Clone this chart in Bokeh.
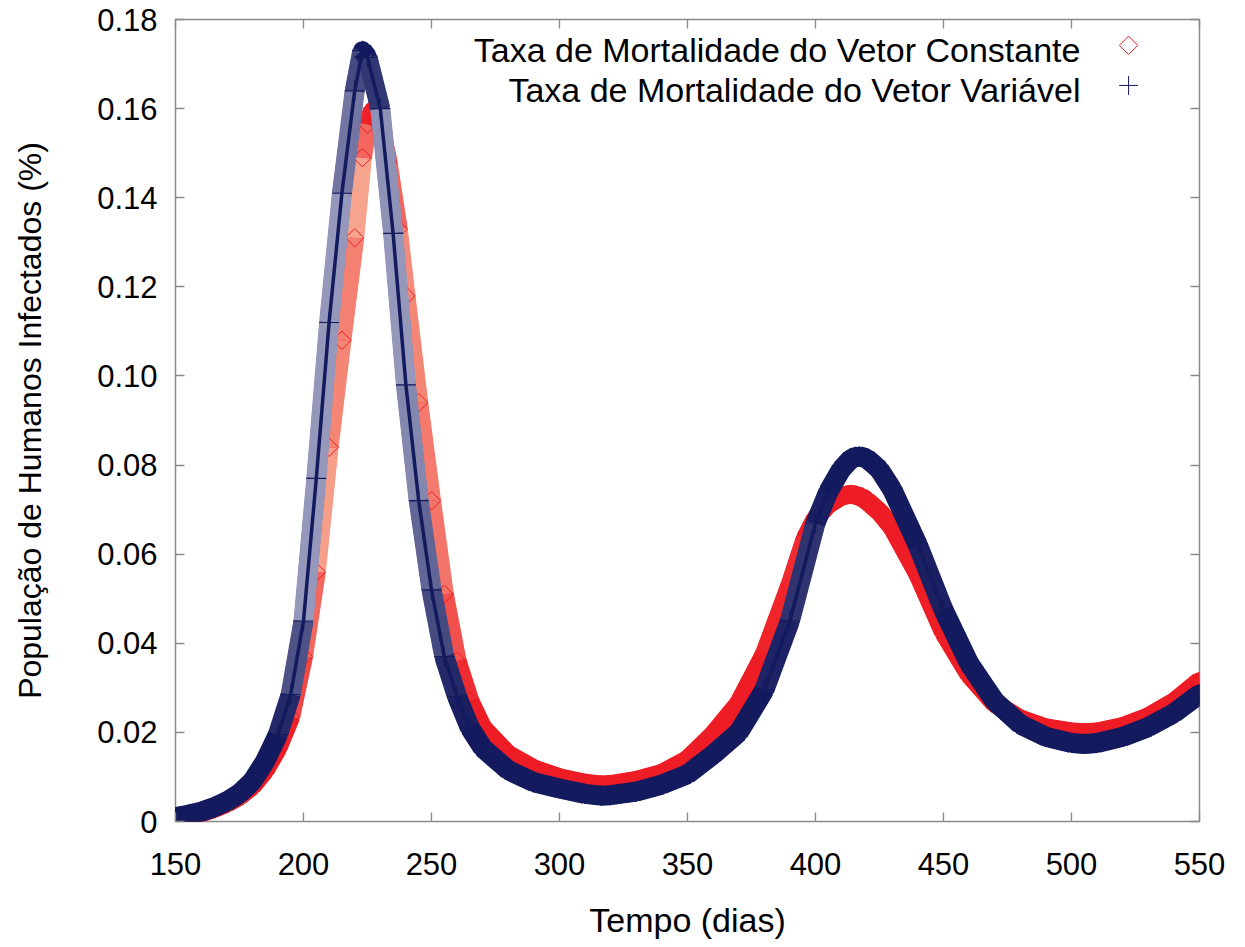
from bokeh.plotting import figure
from bokeh.models import Range1d, FixedTicker, LinearAxis, CustomJSTickFormatter, Label
from bokeh.embed import file_html
from bokeh.resources import INLINE
import math

# ---- data ----
days_const = [150, 155, 160, 165, 170, 175, 180, 185, 190, 195, 200, 205, 210, 215, 220,
              223, 225, 227, 230, 233, 237, 240, 245, 250, 255, 260, 265, 270, 280, 290,
              300, 310, 316, 320, 330, 340, 350, 360, 370, 380, 390, 396, 400, 405, 410,
              414, 418, 420, 425, 430, 440, 450, 460, 470, 480, 490, 500, 505, 510, 520,
              530, 540, 550]
vals_const = [0.0010, 0.0014, 0.0020, 0.0029, 0.0041, 0.0057, 0.0080, 0.0115, 0.0165, 0.0235,
              0.0370, 0.0560, 0.0840, 0.1080, 0.1310, 0.1490, 0.1565, 0.1596, 0.1565, 0.1480,
              0.1330, 0.1180, 0.0940, 0.0720, 0.0510, 0.0360, 0.0270, 0.0210, 0.0150, 0.0118,
              0.0098, 0.0086, 0.0082, 0.0083, 0.0092, 0.0108, 0.0139, 0.0195, 0.0265, 0.0375,
              0.0530, 0.0635, 0.0680, 0.0712, 0.0730, 0.0735, 0.0728, 0.0720, 0.0695, 0.0660,
              0.0555, 0.0425, 0.0330, 0.0265, 0.0230, 0.0210, 0.0201, 0.0199, 0.0201, 0.0213,
              0.0235, 0.0268, 0.0315]

days_var = [150, 155, 160, 165, 170, 175, 180, 185, 190, 195, 200, 205, 210, 215, 220,
            223, 225, 230, 235, 240, 245, 250, 255, 260, 265, 270, 280, 290, 300, 310,
            316, 320, 330, 340, 350, 360, 370, 380, 390, 400, 405, 410, 414, 417, 420,
            425, 430, 440, 450, 460, 470, 480, 490, 500, 505, 510, 520, 530, 540, 550]
vals_var = [0.0010, 0.0015, 0.0022, 0.0032, 0.0045, 0.0063, 0.0090, 0.0135, 0.0195, 0.0285,
            0.0450, 0.0770, 0.1120, 0.1410, 0.1640, 0.1730, 0.1715, 0.1600, 0.1320, 0.0980,
            0.0720, 0.0520, 0.0370, 0.0280, 0.0210, 0.0165, 0.0115, 0.0088, 0.0074, 0.0062,
            0.0058, 0.0059, 0.0067, 0.0083, 0.0106, 0.0150, 0.0200, 0.0295, 0.0450, 0.0670,
            0.0740, 0.0790, 0.0815, 0.0820, 0.0815, 0.0790, 0.0745, 0.0620, 0.0475, 0.0355,
            0.0270, 0.0218, 0.0190, 0.0176, 0.0174, 0.0176, 0.0190, 0.0212, 0.0243, 0.0286]

x_ticks = [150, 200, 250, 300, 350, 400, 450, 500, 550]
y_ticks = [0, 0.02, 0.04, 0.06, 0.08, 0.10, 0.12, 0.14, 0.16, 0.18]

label_const = "Taxa de Mortalidade do Vetor Constante"
label_var = "Taxa de Mortalidade do Vetor Variável"
x_title = "Tempo (dias)"
y_title = "População de Humanos Infectados (%)"

RED = "#ee1c24"
RED_LIGHT = "#f6a48e"
NAVY = "#141a5e"
NAVY_LIGHT = "#9598bb"
FRAME = "#8a8a8a"
FONT = "Liberation Sans"

X0, X1, Y0, Y1 = 150, 550, 0, 0.18
W_PX, H_PX = 1024, 802  # frame size in pixels (used only for band shading)


def hex2rgb(h):
    return tuple(int(h[i:i + 2], 16) for i in (1, 3, 5))


def mix(c_dark, c_light, t):
    a, b = hex2rgb(c_dark), hex2rgb(c_light)
    return "#%02x%02x%02x" % tuple(round(a[i] + (b[i] - a[i]) * t) for i in range(3))


def band_colors(xs, ys, dark, light):
    """Shade band segments: where the curve moves fast (markers spread out) it looks lighter."""
    cols = []
    for i in range(len(xs) - 1):
        dx = (xs[i + 1] - xs[i]) * W_PX / (X1 - X0)
        dy = (ys[i + 1] - ys[i]) * H_PX / (Y1 - Y0)
        speed = math.hypot(dx, dy) / (xs[i + 1] - xs[i])  # pixels per day
        t = min(1.0, max(0.0, (speed - 6.0) / 20.0))
        cols.append(mix(dark, light, t))
    return cols


p = figure(width=1245, height=947, output_backend="svg", toolbar_location=None,
           x_range=Range1d(X0, X1), y_range=Range1d(Y0, Y1),
           min_border_left=175, min_border_right=46, min_border_top=19, min_border_bottom=126,
           background_fill_color="white", border_fill_color="white")
p.grid.visible = False
p.outline_line_color = FRAME
p.outline_line_width = 1.5

# constant mortality: dark band, lighter shading where the curve is steep, diamonds
p.line(days_const, vals_const, line_color=RED, line_width=18, line_join="round", line_cap="round")
p.segment(days_const[:-1], vals_const[:-1], days_const[1:], vals_const[1:],
          line_color=band_colors(days_const, vals_const, RED, RED_LIGHT),
          line_width=19, line_cap="butt")
p.scatter(days_const, vals_const, marker="square", angle=math.pi / 4, size=13,
          fill_color=None, line_color=RED, line_width=1)

# variable mortality: dark band, lighter shading, crosses, dark centre line
p.line(days_var, vals_var, line_color=NAVY, line_width=19, line_join="round", line_cap="round")
p.segment(days_var[:-1], vals_var[:-1], days_var[1:], vals_var[1:],
          line_color=band_colors(days_var, vals_var, NAVY, NAVY_LIGHT),
          line_width=20, line_cap="butt")
p.scatter(days_var, vals_var, marker="cross", size=20, line_color=NAVY, line_width=1.2)
p.line(days_var, vals_var, line_color=NAVY, line_width=3.5, line_join="round")

# axes
fmt_y = CustomJSTickFormatter(code="return tick == 0 ? '0' : tick.toFixed(2);")
blank = CustomJSTickFormatter(code="return '';")


def style(ax, labels=True):
    ax.axis_line_color = None
    ax.major_tick_in = 9
    ax.major_tick_out = 0
    ax.major_tick_line_color = FRAME
    ax.major_tick_line_width = 1.3
    ax.minor_tick_line_color = None
    ax.major_label_text_font = FONT
    ax.major_label_text_color = "black"
    if labels:
        ax.major_label_text_font_size = "31px"
    else:
        ax.major_label_text_font_size = "0px"
        ax.major_label_standoff = 0


xa = p.xaxis[0]
xa.ticker = FixedTicker(ticks=x_ticks)
style(xa)
xa.major_label_standoff = 31
xa.axis_label = x_title
xa.axis_label_text_font = FONT
xa.axis_label_text_font_size = "34px"
xa.axis_label_text_font_style = "normal"
xa.axis_label_text_color = "black"
xa.axis_label_standoff = 23

ya = p.yaxis[0]
ya.ticker = FixedTicker(ticks=y_ticks)
ya.formatter = fmt_y
style(ya)
ya.major_label_standoff = 18
ya.axis_label = y_title
ya.axis_label_text_font = FONT
ya.axis_label_text_font_size = "32px"
ya.axis_label_text_font_style = "normal"
ya.axis_label_text_color = "black"
ya.axis_label_standoff = 46

top = LinearAxis(ticker=FixedTicker(ticks=x_ticks), formatter=blank)
style(top, labels=False)
p.add_layout(top, "above")
right = LinearAxis(ticker=FixedTicker(ticks=y_ticks), formatter=blank)
style(right, labels=False)
p.add_layout(right, "right")

# legend (text right-aligned, symbol on the right, as in the reference)
p.add_layout(Label(x=503.5, y=0.1731, text=label_const, text_align="right",
                   text_baseline="middle", text_font=FONT, text_font_size="34px",
                   text_color="black"))
p.add_layout(Label(x=503.5, y=0.1641, text=label_var, text_align="right",
                   text_baseline="middle", text_font=FONT, text_font_size="34px",
                   text_color="black"))
p.scatter([522.3], [0.1742], marker="square", angle=math.pi / 4, size=13,
          fill_color=None, line_color=RED, line_width=1)
p.scatter([522.3], [0.1652], marker="cross", size=19, line_color=NAVY, line_width=1)

open("out.html", "w").write(file_html(p, INLINE))
